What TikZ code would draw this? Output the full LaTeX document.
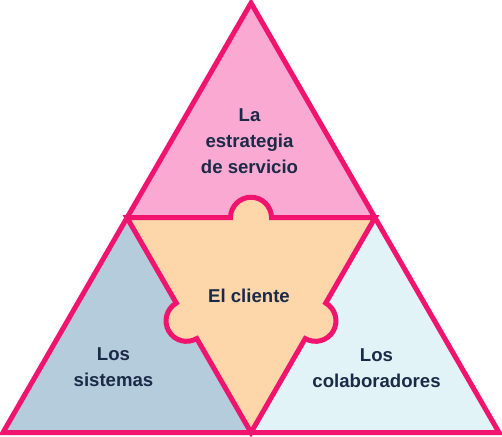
\documentclass[tikz,border=0pt]{standalone}
\usepackage{fontspec}
\setmainfont{Liberation Sans}
\definecolor{edgec}{HTML}{F0146E}
\definecolor{pinkfill}{HTML}{FAAAD2}
\definecolor{grayblue}{HTML}{B5CCDC}
\definecolor{lightbluefill}{HTML}{E2F3F8}
\definecolor{orangefill}{HTML}{FDD6AA}
\definecolor{ink}{HTML}{1B2A47}
\begin{document}
\begin{tikzpicture}[x=1pt,y=1pt,
  piece/.style={draw=edgec,line width=5pt,line join=miter},
  lbl/.style={font=\bfseries\fontsize{18.6}{26}\selectfont,text=ink,align=center,inner sep=0pt}]
\useasboundingbox (0,0) rectangle (502,436);
\coordinate (A) at (251,433);
\coordinate (BL) at (3,3.5);
\coordinate (BR) at (499,3.5);
\coordinate (BM) at (251,3.5);
\coordinate (ML) at (127,218.25);
\coordinate (MR) at (375,218.25);
\fill[pinkfill] (A) -- (ML) -- (MR) -- cycle;
\fill[grayblue] (BL) -- (ML) -- (BM) -- cycle;
\fill[lightbluefill] (BM) -- (MR) -- (BR) -- cycle;
\filldraw[piece,fill=orangefill] (ML) -- (230.5,218.25)
  arc[start angle=180,end angle=0,radius=20.5] -- (MR)
  -- (325.73,132.92) arc[start angle=60,end angle=-120,radius=20.5] -- (BM)
  -- (196.77,97.42) arc[start angle=-60,end angle=-240,radius=20.5] -- cycle;
\draw[piece] (A) -- (BL) -- (BR) -- cycle;
\node[lbl] (strategy) at (249.5,295.2) {La\\estrategia\\de servicio};
\node[lbl] (client) at (249,140) {El cliente};
\node[lbl] (systems) at (113.5,68.5) {Los\\sistemas};
\node[lbl] (staff) at (376.5,68.2) {Los\\colaboradores};
\end{tikzpicture}
\end{document}
